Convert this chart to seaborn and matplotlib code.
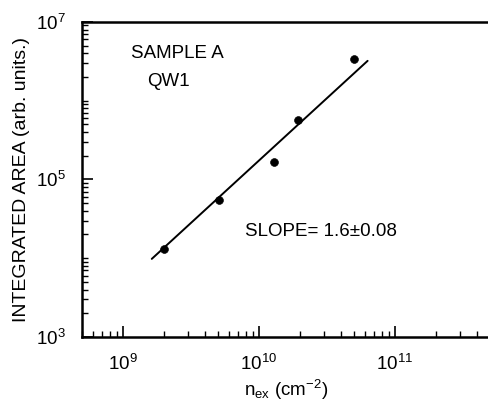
import matplotlib
matplotlib.use("Agg")
import matplotlib.pyplot as plt
import seaborn as sns
import numpy as np
import pandas as pd
from matplotlib.ticker import LogLocator, NullFormatter, FixedLocator

# data
n_ex = [2.0e9, 5.1e9, 1.3e10, 1.94e10, 4.97e10]
area = [1.3e4, 5.4e4, 1.64e5, 5.6e5, 3.36e6]
fit_x = [1.63e9, 6.3e10]
fit_y = [9.8e3, 3.2e6]
y_major = [1e3, 1e5, 1e7]

sns.set_theme(style="ticks")
plt.rcParams['font.family'] = ['Liberation Sans', 'DejaVu Sans']
plt.rcParams['mathtext.fontset'] = 'custom'
plt.rcParams['mathtext.rm'] = 'Liberation Sans'
plt.rcParams['mathtext.it'] = 'Liberation Sans'
plt.rcParams['mathtext.bf'] = 'Liberation Sans'
plt.rcParams['text.color'] = 'black'
plt.rcParams['axes.labelcolor'] = 'black'
plt.rcParams['xtick.color'] = 'black'
plt.rcParams['ytick.color'] = 'black'

fig = plt.figure(figsize=(4.88, 4.05), dpi=100)
ax = fig.add_axes([0.168, 0.168, 0.836, 0.778])

pts = pd.DataFrame({"x": n_ex, "y": area})
fit = pd.DataFrame({"x": fit_x, "y": fit_y})
sns.lineplot(data=fit, x="x", y="y", ax=ax, color="black", lw=1.4)
sns.scatterplot(data=pts, x="x", y="y", ax=ax, color="black", s=32, edgecolor="black", zorder=3)

ax.set_xscale("log")
ax.set_yscale("log")
ax.set_xlim(5e8, 5e11)
ax.set_ylim(1e3, 1e7)

ax.xaxis.set_major_locator(LogLocator(base=10, numticks=10))
ax.xaxis.set_minor_locator(LogLocator(base=10, subs=np.arange(2, 10), numticks=20))
ax.yaxis.set_major_locator(FixedLocator(y_major))
ax.yaxis.set_minor_locator(LogLocator(base=10, subs=np.arange(1, 10), numticks=20))
ax.xaxis.set_minor_formatter(NullFormatter())
ax.yaxis.set_minor_formatter(NullFormatter())
ax.yaxis.set_major_formatter(matplotlib.ticker.LogFormatterSciNotation())

ax.tick_params(which="major", direction="in", length=8, width=1.2, labelsize=13.5, pad=12)
ax.tick_params(which="minor", direction="in", length=4, width=1.0)
ax.tick_params(top=False, right=False, which="both")
for sp in ax.spines.values():
    sp.set_linewidth(1.8)
    sp.set_color("black")

ax.set_xlabel(r"n$_{\mathrm{ex}}$ (cm$^{-2}$)", fontsize=13.5, labelpad=3)
ax.set_ylabel("INTEGRATED AREA (arb. units.)", fontsize=14, labelpad=4)

ax.text(0.12, 0.90, "SAMPLE A", transform=ax.transAxes, fontsize=13.5, ha="left", va="center")
ax.text(0.16, 0.81, "QW1", transform=ax.transAxes, fontsize=13.5, ha="left", va="center")
ax.text(0.40, 0.335, "SLOPE= 1.6±0.08", transform=ax.transAxes, fontsize=13.5, ha="left", va="center")

fig.savefig("out.png", dpi=100)
